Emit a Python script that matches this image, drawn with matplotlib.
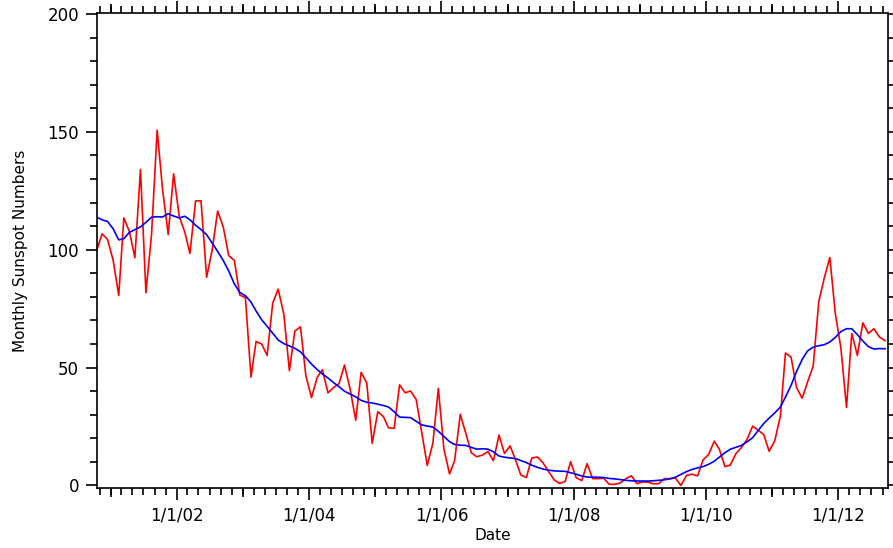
import matplotlib
matplotlib.use('Agg')
import matplotlib.pyplot as plt
import matplotlib.dates as mdates
from matplotlib.ticker import MultipleLocator, FuncFormatter
from datetime import datetime
import pandas as pd

# monthly sunspot numbers, Oct 2000 .. Sep 2012 (plotted mid-month)
first_month = '2000-10-15'
monthly = [99.4, 106.8, 104.4,
           95.6, 80.6, 113.5, 107.7, 96.6, 134.0, 81.8, 106.4, 150.7, 125.5, 106.5, 132.2,
           114.1, 107.4, 98.4, 120.7, 120.8, 88.3, 99.6, 116.4, 109.6, 97.5, 95.5, 80.8,
           79.7, 46.0, 61.1, 60.0, 55.2, 77.4, 83.3, 72.7, 48.7, 65.5, 67.3, 46.5,
           37.3, 45.8, 49.1, 39.3, 41.5, 43.2, 51.1, 40.9, 27.7, 48.0, 43.5, 17.9,
           31.3, 29.2, 24.5, 24.2, 42.7, 39.3, 40.1, 36.4, 22.1, 8.5, 18.0, 41.2,
           15.3, 4.9, 10.6, 30.2, 22.3, 13.9, 12.2, 12.9, 14.4, 10.5, 21.4, 13.6,
           16.8, 10.7, 4.5, 3.4, 11.7, 12.1, 9.7, 6.0, 2.4, 0.9, 1.7, 10.1,
           3.3, 2.1, 9.3, 2.9, 2.9, 3.1, 0.5, 0.5, 1.1, 2.9, 4.1, 0.8,
           1.5, 1.4, 0.7, 0.8, 2.9, 2.9, 3.2, 0.0, 4.3, 4.8, 4.1, 10.8,
           13.2, 18.8, 15.4, 8.0, 8.7, 13.6, 16.1, 19.6, 25.2, 23.5, 21.6, 14.5,
           19.0, 29.4, 56.2, 54.4, 41.6, 37.0, 43.9, 50.6, 78.0, 88.0, 96.7, 73.0,
           58.3, 33.1, 64.5, 55.2, 69.0, 64.5, 66.5, 63.0, 61.4]

# smoothed curve
smoothed = [113.9, 112.7, 112.0,
            108.9, 104.2, 104.7, 107.4, 108.5, 109.7, 111.6, 113.8, 114.0, 113.9, 115.3, 114.3,
            113.5, 114.2, 112.7, 110.4, 108.6, 106.4, 102.9, 99.3, 95.4, 91.0, 85.5, 81.9,
            80.5, 77.8, 74.0, 70.3, 67.5, 64.6, 61.7, 60.2, 59.2, 58.2, 56.7, 54.2,
            51.5, 49.2, 47.3, 45.6, 43.7, 41.9, 40.0, 38.8, 37.6, 36.1, 35.3, 35.0,
            34.5, 33.9, 33.3, 31.3, 29.0, 28.9, 28.8, 27.2, 25.7, 25.2, 24.8, 23.0,
            20.8, 18.6, 17.4, 17.1, 17.0, 16.2, 15.4, 15.6, 15.4, 14.3, 12.5, 12.0,
            11.7, 11.4, 10.6, 9.7, 8.6, 7.7, 7.0, 6.5, 6.2, 6.1, 6.0, 5.4,
            4.8, 4.0, 3.6, 3.5, 3.5, 3.4, 3.0, 2.8, 2.5, 2.2, 2.0, 1.9,
            1.9, 1.9, 2.0, 2.2, 2.4, 2.8, 3.5, 4.7, 5.9, 6.8, 7.5, 8.0,
            9.0, 10.3, 12.0, 13.9, 15.4, 16.2, 17.0, 18.5, 20.3, 23.3, 26.3, 28.6,
            30.8, 33.3, 37.5, 42.5, 48.3, 53.4, 57.1, 58.7, 59.3, 59.7, 60.9, 62.8,
            65.3, 66.5, 66.5, 64.0, 61.3, 58.9, 57.9, 58.1, 58.0]

dates = pd.date_range(first_month, periods=len(monthly), freq=pd.DateOffset(months=1))

fig = plt.figure(figsize=(8.93, 5.48), dpi=100)
ax = fig.add_axes([97/893, 60.5/548, 791/893, 474.2/548])

ax.plot(dates, monthly, color='#ff0000', lw=1.2)
ax.plot(dates, smoothed, color='#0000ff', lw=1.2)

ax.set_xlim(datetime(2000, 10, 18), datetime(2012, 10, 1))
ax.set_ylim(-0.85, 200.3)

# odd-year ticks (medium length) on a twin axis
ax2 = ax.twiny()
ax2.set_xlim(ax.get_xlim())
ax2.set_xticks([mdates.date2num(datetime(y, 1, 1)) for y in range(2001, 2013, 2)])
ax2.tick_params(axis='x', which='major', direction='out', length=6.5, width=1.2,
                top=True, bottom=True, labeltop=False, labelbottom=False)
ax2.tick_params(axis='x', which='minor', top=False, bottom=False)
for s in ax2.spines.values():
    s.set_visible(False)

ax.xaxis.set_major_locator(mdates.YearLocator(2))
ax.xaxis.set_minor_locator(mdates.MonthLocator(bymonth=[1, 3, 5, 7, 9, 11]))
ax.xaxis.set_major_formatter(FuncFormatter(
    lambda v, pos: '{0}/{1}/{2:%y}'.format(mdates.num2date(v).month, mdates.num2date(v).day, mdates.num2date(v))))
ax.yaxis.set_major_locator(MultipleLocator(50))
ax.yaxis.set_minor_locator(MultipleLocator(10))

ax.tick_params(axis='x', which='major', direction='out', length=8.6, width=1.2,
               top=True, bottom=True, labelsize=12, pad=5)
ax.tick_params(axis='x', which='minor', direction='out', length=4.7, width=1.2,
               top=True, bottom=True)
ax.tick_params(axis='y', which='major', direction='out', length=8, width=1.2,
               left=True, right=True, labelsize=12, pad=4.8)
ax.tick_params(axis='y', which='minor', direction='out', length=5, width=1.2,
               left=True, right=True)
for s in ax.spines.values():
    s.set_linewidth(1.2)

ax.set_xlabel('Date', fontsize=11)
ax.set_ylabel('Monthly Sunspot Numbers', fontsize=11)
ax.xaxis.set_label_coords(0.5, -0.086)
ax.yaxis.set_label_coords(-0.087, 0.5)

fig.savefig('out.png', dpi=100)
